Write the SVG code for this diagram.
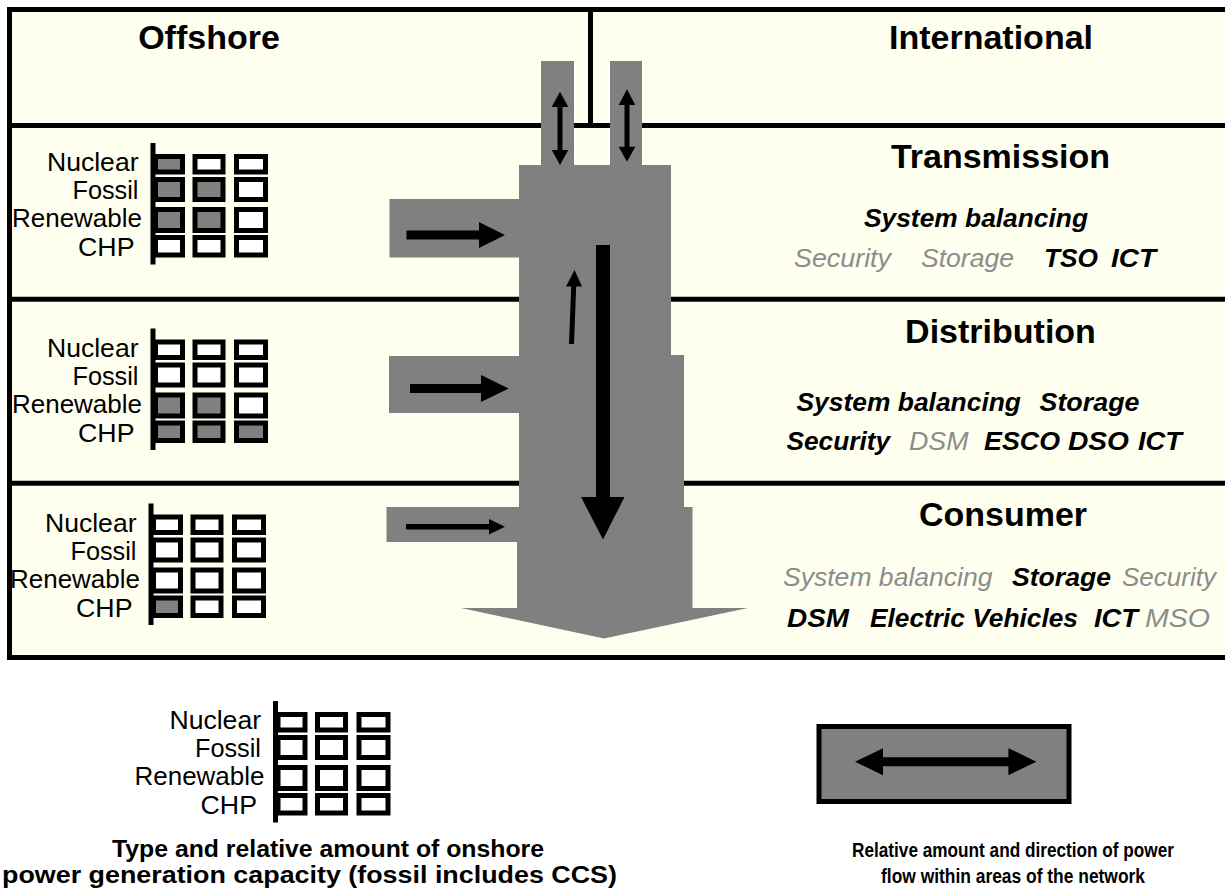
<svg xmlns="http://www.w3.org/2000/svg" width="1225" height="890" viewBox="0 0 1225 890">
<style>
.hd{font-family:"Liberation Sans",Arial,sans-serif;font-weight:bold;font-size:34px;text-anchor:middle;fill:#000}
.lb{font-family:"Liberation Sans",Arial,sans-serif;font-size:25px;fill:#000}
.it{font-family:"Liberation Sans",Arial,sans-serif;font-size:25px;font-style:italic;fill:#000}
.b{font-weight:bold}
.g{fill:#8c8c8c}
.cap{font-family:"Liberation Sans",Arial,sans-serif;font-weight:bold;font-size:23px;fill:#000}
.cap2{font-family:"Liberation Sans",Arial,sans-serif;font-weight:bold;font-size:20px;fill:#000;text-anchor:middle}
.bx{fill:#fff;stroke:#000;stroke-width:5}
.gx{fill:#808080;stroke:#000;stroke-width:5}
.bar{fill:#000}
.flow{fill:#808080}
.ln{stroke:#000;stroke-width:5;fill:none}
.arr{fill:#000}
</style>
<rect width="1225" height="890" fill="#fff"/>
<g id="frame">
<rect x="9.5" y="9.5" width="1240" height="648" stroke="#000" stroke-width="5" fill="#fffff0"/>
<line class="ln" x1="12" y1="125.5" x2="1225" y2="125.5"/>
<line class="ln" x1="12" y1="299.2" x2="1225" y2="299.2"/>
<line class="ln" x1="12" y1="483.2" x2="1225" y2="483.2"/>
<line class="ln" x1="590.5" y1="12" x2="590.5" y2="125"/>
</g>
<g id="offshore"><text class="hd" x="209" y="49">Offshore</text></g>
<g id="international"><text class="hd" x="991" y="49">International</text></g>
<g id="transmission">
<text class="hd" x="1000.5" y="168">Transmission</text>
<text class="it b" x="864" y="227" textLength="224" lengthAdjust="spacingAndGlyphs">System balancing</text>
<text class="it g" x="794" y="267" textLength="97" lengthAdjust="spacingAndGlyphs">Security</text>
<text class="it g" x="921" y="267" textLength="93" lengthAdjust="spacingAndGlyphs">Storage</text>
<text class="it b" x="1044" y="267" textLength="54" lengthAdjust="spacingAndGlyphs">TSO</text>
<text class="it b" x="1111" y="267" textLength="45" lengthAdjust="spacingAndGlyphs">ICT</text>
</g>
<g id="distribution">
<text class="hd" x="1000.5" y="343">Distribution</text>
<text class="it b" x="796.5" y="411" textLength="224.5" lengthAdjust="spacingAndGlyphs">System balancing</text>
<text class="it b" x="1039.5" y="411" textLength="100" lengthAdjust="spacingAndGlyphs">Storage</text>
<text class="it b" x="786.5" y="450" textLength="103.5" lengthAdjust="spacingAndGlyphs">Security</text>
<text class="it g" x="909" y="450" textLength="59.5" lengthAdjust="spacingAndGlyphs">DSM</text>
<text class="it b" x="984" y="450" textLength="76" lengthAdjust="spacingAndGlyphs">ESCO</text>
<text class="it b" x="1068" y="450" textLength="61" lengthAdjust="spacingAndGlyphs">DSO</text>
<text class="it b" x="1138" y="450" textLength="44" lengthAdjust="spacingAndGlyphs">ICT</text>
</g>
<g id="consumer">
<text class="hd" x="1003" y="526">Consumer</text>
<text class="it g" x="783" y="586" textLength="209.5" lengthAdjust="spacingAndGlyphs">System balancing</text>
<text class="it b" x="1012" y="586" textLength="99" lengthAdjust="spacingAndGlyphs">Storage</text>
<text class="it g" x="1122" y="586" textLength="94" lengthAdjust="spacingAndGlyphs">Security</text>
<text class="it b" x="787" y="627" textLength="62" lengthAdjust="spacingAndGlyphs">DSM</text>
<text class="it b" x="870" y="627" textLength="208" lengthAdjust="spacingAndGlyphs">Electric Vehicles</text>
<text class="it b" x="1094" y="627" textLength="44" lengthAdjust="spacingAndGlyphs">ICT</text>
<text class="it g" x="1145" y="627" textLength="65" lengthAdjust="spacingAndGlyphs">MSO</text>
</g>
<g id="grid-transmission">
<text class="lb" x="47" y="171" textLength="91.5" lengthAdjust="spacingAndGlyphs">Nuclear</text>
<text class="lb" x="72.5" y="199" textLength="66" lengthAdjust="spacingAndGlyphs">Fossil</text>
<text class="lb" x="12" y="227" textLength="130" lengthAdjust="spacingAndGlyphs">Renewable</text>
<text class="lb" x="78" y="256" textLength="56.5" lengthAdjust="spacingAndGlyphs">CHP</text>
<rect class="gx" x="155.5" y="156.5" width="27" height="15.5"/><rect class="bx" x="195" y="156.5" width="28" height="15.5"/><rect class="bx" x="236.5" y="156.5" width="29" height="15.5"/>
<rect class="gx" x="155.5" y="179.5" width="27" height="20"/><rect class="gx" x="195" y="179.5" width="28" height="20"/><rect class="bx" x="236.5" y="179.5" width="29" height="20"/>
<rect class="gx" x="155.5" y="209.5" width="27" height="21"/><rect class="gx" x="195" y="209.5" width="28" height="21"/><rect class="bx" x="236.5" y="209.5" width="29" height="21"/>
<rect class="bx" x="155.5" y="237.5" width="27" height="17.5"/><rect class="bx" x="195" y="237.5" width="28" height="17.5"/><rect class="bx" x="236.5" y="237.5" width="29" height="17.5"/>
<rect class="bar" x="150.5" y="143" width="5" height="121.5"/>
</g>
<g id="grid-distribution" transform="translate(0,185.5)">
<text class="lb" x="47" y="171" textLength="91.5" lengthAdjust="spacingAndGlyphs">Nuclear</text>
<text class="lb" x="72.5" y="199" textLength="66" lengthAdjust="spacingAndGlyphs">Fossil</text>
<text class="lb" x="12" y="227" textLength="130" lengthAdjust="spacingAndGlyphs">Renewable</text>
<text class="lb" x="78" y="256" textLength="56.5" lengthAdjust="spacingAndGlyphs">CHP</text>
<rect class="bx" x="155.5" y="156.5" width="27" height="15.5"/><rect class="bx" x="195" y="156.5" width="28" height="15.5"/><rect class="bx" x="236.5" y="156.5" width="29" height="15.5"/>
<rect class="bx" x="155.5" y="179.5" width="27" height="20"/><rect class="bx" x="195" y="179.5" width="28" height="20"/><rect class="bx" x="236.5" y="179.5" width="29" height="20"/>
<rect class="gx" x="155.5" y="209.5" width="27" height="21"/><rect class="gx" x="195" y="209.5" width="28" height="21"/><rect class="bx" x="236.5" y="209.5" width="29" height="21"/>
<rect class="gx" x="155.5" y="237.5" width="27" height="17.5"/><rect class="gx" x="195" y="237.5" width="28" height="17.5"/><rect class="gx" x="236.5" y="237.5" width="29" height="17.5"/>
<rect class="bar" x="150.5" y="143" width="5" height="121.5"/>
</g>
<g id="grid-consumer" transform="translate(-2,360.5)">
<text class="lb" x="47" y="171" textLength="91.5" lengthAdjust="spacingAndGlyphs">Nuclear</text>
<text class="lb" x="72.5" y="199" textLength="66" lengthAdjust="spacingAndGlyphs">Fossil</text>
<text class="lb" x="12" y="227" textLength="130" lengthAdjust="spacingAndGlyphs">Renewable</text>
<text class="lb" x="78" y="256" textLength="56.5" lengthAdjust="spacingAndGlyphs">CHP</text>
<rect class="bx" x="155.5" y="156.5" width="27" height="15.5"/><rect class="bx" x="195" y="156.5" width="28" height="15.5"/><rect class="bx" x="236.5" y="156.5" width="29" height="15.5"/>
<rect class="bx" x="155.5" y="179.5" width="27" height="20"/><rect class="bx" x="195" y="179.5" width="28" height="20"/><rect class="bx" x="236.5" y="179.5" width="29" height="20"/>
<rect class="bx" x="155.5" y="209.5" width="27" height="21"/><rect class="bx" x="195" y="209.5" width="28" height="21"/><rect class="bx" x="236.5" y="209.5" width="29" height="21"/>
<rect class="gx" x="155.5" y="237.5" width="27" height="17.5"/><rect class="bx" x="195" y="237.5" width="28" height="17.5"/><rect class="bx" x="236.5" y="237.5" width="29" height="17.5"/>
<rect class="bar" x="150.5" y="143" width="5" height="121.5"/>
</g>
<g id="flow-shape">
<rect class="flow" x="541" y="61" width="33" height="105"/>
<rect class="flow" x="610" y="61" width="32" height="105"/>
<rect class="flow" x="519" y="165" width="152" height="191"/>
<rect class="flow" x="519" y="355" width="165" height="153"/>
<rect class="flow" x="517" y="507" width="175.5" height="101.5"/>
<polygon class="flow" points="461,608 748,608 604,638.5"/>
<rect class="flow" x="389.5" y="199" width="130" height="58.5"/>
<rect class="flow" x="389" y="356" width="131" height="57"/>
<rect class="flow" x="386.5" y="507" width="133" height="35"/>
</g>
<g id="connectors">
<polygon class="arr" points="560,91.7 568.3,107 562.5,107 562.5,150 568.3,150 560,165 551.7,150 557.5,150 557.5,107 551.7,107"/>
<polygon class="arr" points="627,89.3 635.3,105 629.5,105 629.5,146.7 635.3,146.7 627,161.7 618.7,146.7 624.5,146.7 624.5,105 618.7,105"/>
<polygon class="arr" points="406.5,230.5 479,230.5 479,222 505,235 479,248 479,239.5 406.5,239.5"/>
<polygon class="arr" points="410,384 481,384 481,375 508.7,388.5 481,402 481,393 410,393"/>
<polygon class="arr" points="406,524 489,524 489,519 505,526.8 489,534.5 489,529.5 406,529.5"/>
<polygon class="arr" points="596,245 610,245 610,497 624.5,497 603,539.5 581,497 596,497"/>
<polygon class="arr" points="569,344 574,344 576.2,286.5 582,286.5 574.5,270 566,286.5 571.2,286.5"/>
</g>
<g id="legend-grid" transform="translate(122.5,558)">
<text class="lb" x="47" y="171" textLength="91.5" lengthAdjust="spacingAndGlyphs">Nuclear</text>
<text class="lb" x="72.5" y="199" textLength="66" lengthAdjust="spacingAndGlyphs">Fossil</text>
<text class="lb" x="12" y="227" textLength="130" lengthAdjust="spacingAndGlyphs">Renewable</text>
<text class="lb" x="78" y="256" textLength="56.5" lengthAdjust="spacingAndGlyphs">CHP</text>
<rect class="bx" x="155.5" y="156.5" width="27" height="15.5"/><rect class="bx" x="195" y="156.5" width="28" height="15.5"/><rect class="bx" x="236.5" y="156.5" width="29" height="15.5"/>
<rect class="bx" x="155.5" y="179.5" width="27" height="20"/><rect class="bx" x="195" y="179.5" width="28" height="20"/><rect class="bx" x="236.5" y="179.5" width="29" height="20"/>
<rect class="bx" x="155.5" y="209.5" width="27" height="21"/><rect class="bx" x="195" y="209.5" width="28" height="21"/><rect class="bx" x="236.5" y="209.5" width="29" height="21"/>
<rect class="bx" x="155.5" y="237.5" width="27" height="17.5"/><rect class="bx" x="195" y="237.5" width="28" height="17.5"/><rect class="bx" x="236.5" y="237.5" width="29" height="17.5"/>
<rect class="bar" x="150.5" y="143" width="5" height="121.5"/>
</g>
<g id="legend-grid-caption">
<text class="cap" x="112" y="857" textLength="432" lengthAdjust="spacingAndGlyphs">Type and relative amount of onshore</text>
<text class="cap" x="2" y="883" textLength="615" lengthAdjust="spacingAndGlyphs">power generation capacity (fossil includes CCS)</text>
</g>
<g id="legend-flow">
<rect class="gx" x="819" y="726.5" width="250" height="75"/>
<polygon class="arr" points="855,761.7 883,748.2 883,757.2 1008.4,757.2 1008.4,748.2 1036.4,761.7 1008.4,775.2 1008.4,766.2 883,766.2 883,775.2"/>
<text class="cap2" x="1013" y="857" textLength="322" lengthAdjust="spacingAndGlyphs">Relative amount and direction of power</text>
<text class="cap2" x="1013" y="883" textLength="264" lengthAdjust="spacingAndGlyphs">flow within areas of the network</text>
</g>
</svg>
